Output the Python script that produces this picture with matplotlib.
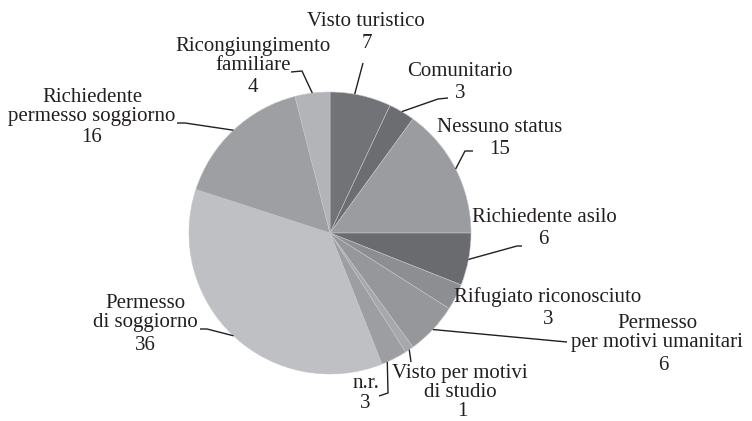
import matplotlib.pyplot as plt
import numpy as np

labels = ["Visto turistico", "Comunitario", "Nessuno status", "Richiedente asilo",
          "Rifugiato riconosciuto", "Permesso\nper motivi umanitari",
          "Visto per motivi\ndi studio", "n.r.", "Permesso\ndi soggiorno",
          "Richiedente\npermesso soggiorno", "Ricongiungimento\nfamiliare"]
values = [7, 3, 15, 6, 3, 6, 1, 3, 36, 16, 4]
colors = ["#727377", "#6c6d71", "#9b9ca0", "#6a6b6f", "#8d8e92", "#96979b",
          "#a7a8ac", "#9d9ea2", "#bfc0c4", "#9e9fa3", "#b3b4b8"]

# layout in pixel coords (y down): name centre, value centre, leader path, attach fraction
name_xy = [(366, 21), (460, 72), (500, 128), (544, 217), (548, 297), (657, 333),
           (460, 383), (366, 383), (145, 313), (92, 107), (253, 56)]
value_xy = [(367, 43), (460, 93), (500, 150), (543, 240), (548, 319), (663, 365),
            (462, 411), (365, 403), (145, 345), (92, 137), (253, 88)]
leaders = [[(363, 63)], [(438, 99), (448, 98)], [(465, 151), (473, 151)],
           [(517, 246), (522, 246)], None, [(567, 342)], [(411, 362)],
           [(388, 393), (379, 396)], [(207, 329), (200, 329)],
           [(185, 123), (177, 123)], [(302, 71), (291, 72)]]
attach = [0.4, 0.5, 0.5, 0.5, 0.5, 0.5, 0.5, 0.78, 0.5, 0.5, 0.5]

cx, cy, r = 330, 233, 141
ink = "#231f20"
plt.rcParams['font.family'] = ['Liberation Serif', 'DejaVu Serif']

fig = plt.figure(figsize=(7.52, 4.21), dpi=100)
ax = fig.add_axes([0, 0, 1, 1])
wedges, _ = ax.pie(values, colors=colors, startangle=-90, counterclock=True,
                   center=(cx, cy), radius=r,
                   wedgeprops=dict(edgecolor="#c4c5c9", linewidth=0.4))
ax.set_xlim(0, 752)
ax.set_ylim(421, 0)
ax.set_aspect('equal')
ax.axis('off')

for i, w in enumerate(wedges):
    ax.text(*name_xy[i], labels[i], ha='center', va='center', fontsize=15,
            color=ink, linespacing=1.0)
    ax.text(*value_xy[i], str(values[i]), ha='center', va='center', fontsize=15,
            color=ink)
    if leaders[i] is None:
        continue
    a = np.radians(w.theta1 + attach[i] * (w.theta2 - w.theta1))
    pts = [(cx + r * np.cos(a), cy + r * np.sin(a))] + leaders[i]
    xs, ys = zip(*pts)
    ax.plot(xs, ys, color=ink, lw=1.0, solid_capstyle='butt')

fig.savefig("out.png", dpi=100)
